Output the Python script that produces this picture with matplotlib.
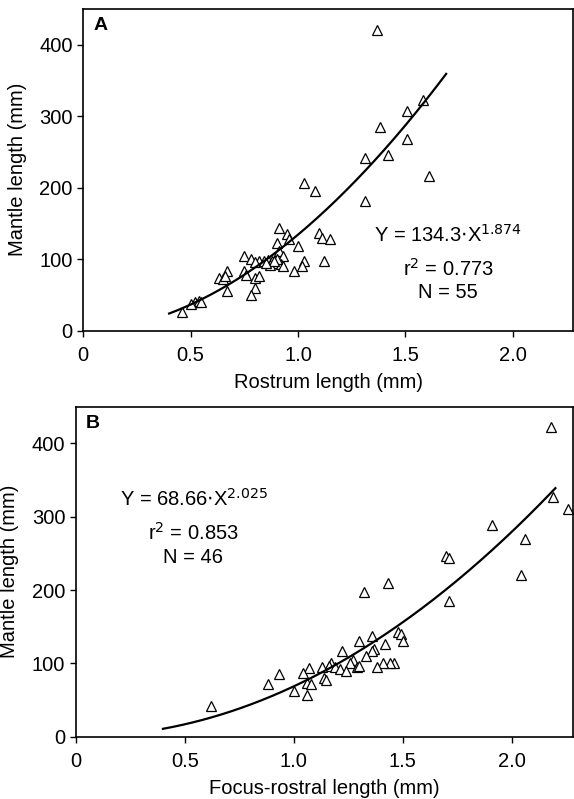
import numpy as np
import matplotlib.pyplot as plt

plt.rcParams['font.family'] = ['Liberation Sans', 'DejaVu Sans']

# Panel A: rostrum length vs mantle length
rostrum_x = [1.37, 1.58, 1.51, 1.38, 1.51, 1.42, 1.31, 1.61, 1.03, 1.08,
             1.31, 0.91, 0.95, 1.10, 1.11, 1.15, 0.96, 0.90, 1.00, 0.91,
             0.93, 0.75, 0.78, 0.82, 0.80, 0.84, 0.86, 0.88, 0.90, 0.87,
             0.92, 0.93, 1.03, 1.02, 1.12, 0.98, 0.75, 0.76, 0.67, 0.63,
             0.65, 0.66, 0.80, 0.82, 0.80, 0.67, 0.78, 0.52, 0.54, 0.50,
             0.55, 0.46, 0.90, 0.89, 0.85]
rostrum_y = [420, 322, 307, 285, 268, 245, 242, 217, 207, 195,
             182, 143, 135, 137, 130, 128, 128, 123, 118, 112,
             105, 104, 100, 97, 96, 97, 99, 98, 95, 92,
             93, 90, 98, 90, 97, 84, 84, 78, 84, 74,
             72, 76, 74, 76, 60, 56, 50, 40, 41, 38,
             40, 26, 100, 97, 95]
fit_a = (134.3, 1.874)
range_a = (0.4, 1.69)

# Panel B: focus-rostral length vs mantle length
focus_x = [2.18, 2.19, 2.26, 1.91, 2.06, 1.70, 1.71, 2.04, 1.43, 1.32,
           1.71, 1.48, 1.49, 1.50, 1.36, 1.42, 1.30, 1.37, 1.36, 1.33,
           1.27, 1.22, 1.26, 1.46, 1.44, 1.41, 1.38, 1.29, 1.30, 1.17,
           1.16, 1.19, 1.21, 1.24, 1.13, 1.07, 1.04, 1.06, 1.14, 1.15,
           1.08, 1.00, 1.06, 0.93, 0.88, 0.62]
focus_y = [422, 327, 311, 288, 270, 247, 244, 220, 210, 197,
           185, 143, 140, 130, 137, 127, 130, 120, 117, 110,
           105, 117, 100, 100, 100, 100, 95, 95, 97, 100,
           97, 95, 92, 90, 95, 93, 87, 73, 80, 77,
           72, 62, 57, 85, 72, 42]
fit_b = (68.66, 2.025)
range_b = (0.4, 2.2)


def style_axes(ax, xlabel):
    for sp in ax.spines.values():
        sp.set_linewidth(1.2)
    ax.set_xlim(0, 2.28)
    ax.set_ylim(0, 450)
    ax.set_xticks([0, 0.5, 1.0, 1.5, 2.0])
    ax.set_xticklabels(['0', '0.5', '1.0', '1.5', '2.0'])
    ax.set_yticks([0, 100, 200, 300, 400])
    ax.tick_params(direction='out', length=4, width=1, labelsize=14.5)
    ax.xaxis.set_tick_params(pad=7)
    ax.set_xlabel(xlabel, fontsize=14.5, labelpad=6)
    ax.set_ylabel('Mantle length (mm)', fontsize=14.5, labelpad=9)


def plot_panel(ax, x, y, fit, xr):
    ax.plot(x, y, linestyle='', marker='^', markersize=7,
            markerfacecolor='white', markeredgecolor='black',
            markeredgewidth=0.9, clip_on=False)
    xx = np.linspace(xr[0], xr[1], 200)
    ax.plot(xx, fit[0] * xx ** fit[1], color='black', linewidth=1.6)


fig = plt.figure(figsize=(5.74, 7.99), dpi=100)

ax1 = fig.add_axes([0.145, 0.586, 0.853, 0.403])
style_axes(ax1, 'Rostrum length (mm)')
plot_panel(ax1, rostrum_x, rostrum_y, fit_a, range_a)
ax1.text(0.02, 0.975, 'A', transform=ax1.transAxes, fontsize=14,
         fontweight='bold', va='top', ha='left')
ax1.text(1.70, 134, r'Y = 134.3$\cdot$X$^{1.874}$', ha='center', va='center',
         fontsize=14.5)
ax1.text(1.70, 87, r'r$^2$ = 0.773', ha='center', va='center', fontsize=14.5)
ax1.text(1.70, 53, 'N = 55', ha='center', va='center', fontsize=14.5)

ax2 = fig.add_axes([0.132, 0.078, 0.866, 0.413])
style_axes(ax2, 'Focus-rostral length (mm)')
plot_panel(ax2, focus_x, focus_y, fit_b, range_b)
ax2.text(0.02, 0.975, 'B', transform=ax2.transAxes, fontsize=14,
         fontweight='bold', va='top', ha='left')
ax2.text(0.54, 325, r'Y = 68.66$\cdot$X$^{2.025}$', ha='center', va='center',
         fontsize=14.5)
ax2.text(0.54, 278, r'r$^2$ = 0.853', ha='center', va='center', fontsize=14.5)
ax2.text(0.54, 245, 'N = 46', ha='center', va='center', fontsize=14.5)

fig.savefig('out.png', dpi=100)
